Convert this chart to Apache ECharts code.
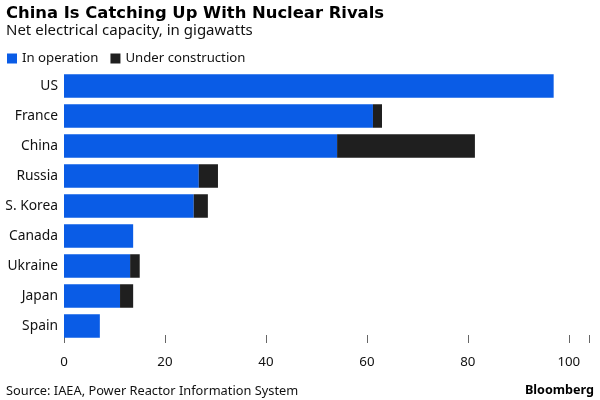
<!DOCTYPE html>
<html lang="en">
<head>
<meta charset="utf-8">
<title>China Is Catching Up With Nuclear Rivals</title>
<script src="https://cdn.jsdelivr.net/npm/echarts@6/dist/echarts.min.js"></script>
<style>
html, body { margin: 0; padding: 0; background: #fff; }
#main { width: 600px; height: 400px; }
</style>
</head>
<body>
<div id="main"></div>
<script>
var countries = ['US', 'France', 'China', 'Russia', 'S. Korea', 'Canada', 'Ukraine', 'Japan', 'Spain'];
var inOperation = [97, 61.2, 54.1, 26.7, 25.7, 13.7, 13.1, 11.1, 7.1];
var underConstruction = [0, 1.8, 27.3, 3.8, 2.8, 0, 1.9, 2.6, 0];
var xLabels = [0, 20, 40, 60, 80, 100];
var xTickMarks = [20, 40, 60, 80, 100];

var font = '"Noto Sans", sans-serif';
var myChart = echarts.init(document.getElementById('main'));

myChart.setOption({
    animation: false,
    textStyle: { fontFamily: font },
    title: [
        { text: 'China Is Catching Up With Nuclear Rivals', left: 6, top: 6, padding: 0, textStyle: { fontSize: 16.4, fontWeight: 'bold', color: '#000', fontFamily: '"DejaVu Sans", sans-serif' } },
        { text: 'Net electrical capacity, in gigawatts', left: 6, top: 23, padding: 0, textStyle: { fontSize: 15, fontWeight: 'normal', color: '#111', fontFamily: font } },
        { text: 'Source: IAEA, Power Reactor Information System', left: 6, top: 385, padding: 0, textStyle: { fontSize: 12.8, fontWeight: 'normal', color: '#111', fontFamily: font } },
        { text: 'Bloomberg', right: 6, top: 384, padding: 0, textStyle: { fontSize: 12.6, fontWeight: 'bold', color: '#000', fontFamily: font } }
    ],
    legend: {
        left: 7, top: 52, padding: 0, icon: 'rect', itemWidth: 10, itemHeight: 10, itemGap: 12,
        textStyle: { fontSize: 13.2, color: '#111' },
        data: ['In operation', 'Under construction']
    },
    grid: { left: 64, right: 11, top: 71, bottom: 59 },
    xAxis: {
        type: 'value', min: 0, max: 104, interval: 20, offset: -6,
        axisLine: { show: true, lineStyle: { color: 'rgba(0,0,0,0)' } },
        axisTick: { show: true, inside: false, length: 8, lineStyle: { color: '#666', width: 1 } },
        axisLabel: { fontSize: 13.3, color: '#111', margin: 21, customValues: xLabels },
        splitLine: { show: false }
    },
    yAxis: {
        type: 'category', inverse: true, data: countries,
        axisLine: { show: false },
        axisTick: { show: false },
        axisLabel: { fontSize: 13.8, color: '#111', margin: 6 }
    },
    series: [
        { name: 'In operation', type: 'bar', stack: 'total', data: inOperation, barWidth: 23.5, itemStyle: { color: '#0a5ce6' } },
        { name: 'Under construction', type: 'bar', stack: 'total', data: underConstruction, barWidth: 23.5, itemStyle: { color: '#1f1f1f' } }
    ]
});
</script>
</body>
</html>
